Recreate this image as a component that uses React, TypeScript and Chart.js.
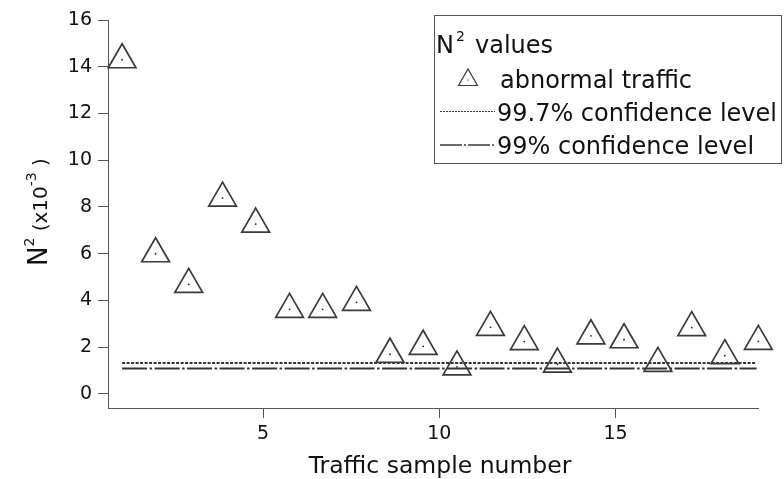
import React, { useEffect, useRef } from "react";
import { Chart, registerables } from "chart.js";

Chart.register(...registerables);

const sampleNumbers = [1.0, 1.95, 2.89, 3.85, 4.79, 5.75, 6.69, 7.65, 8.6, 9.54, 10.5, 11.45, 12.41, 13.35, 14.3, 15.24, 16.2, 17.16, 18.1, 19.05];
const n2Values = [14.3, 6.0, 4.69, 8.38, 7.27, 3.62, 3.62, 3.92, 1.7, 2.04, 1.16, 2.85, 2.24, 1.28, 2.49, 2.32, 1.31, 2.84, 1.64, 2.25];
const lineSpan = [1, 19];
const level997 = 1.32;
const level99 = 1.09;
const xTicks = [5, 10, 15];
const yTicks = [0, 2, 4, 6, 8, 10, 12, 14, 16];

const FONT = "'DejaVu Sans', sans-serif";
const INK = "#3a3a3a";
const TEXT = "#111";

const titlesAndLegend = {
  id: "titlesAndLegend",
  afterDraw(chart: any) {
    const ctx = chart.ctx as CanvasRenderingContext2D;
    ctx.save();
    ctx.fillStyle = TEXT;
    ctx.textBaseline = "alphabetic";
    ctx.textAlign = "left";

    // y title (rotated)
    ctx.save();
    ctx.translate(47, 266);
    ctx.rotate(-Math.PI / 2);
    let x = 0;
    const seg = (t: string, size: number, dy: number) => {
      ctx.font = `${size}px ${FONT}`;
      ctx.fillText(t, x, dy);
      x += ctx.measureText(t).width;
    };
    seg("N", 26, 0);
    seg("2", 14, -13);
    seg(" (x10", 20, 0);
    seg("-3", 14, -11);
    seg(" )", 20, 0);
    ctx.restore();

    // x title
    ctx.font = `23.5px ${FONT}`;
    ctx.textAlign = "center";
    ctx.fillText("Traffic sample number", 440, 473);
    ctx.textAlign = "left";

    // legend
    ctx.strokeStyle = "#555";
    ctx.lineWidth = 1;
    ctx.strokeRect(434.5, 15.5, 347, 148);

    ctx.font = `24px ${FONT}`;
    ctx.fillText("N", 436, 53);
    const nw = ctx.measureText("N").width;
    ctx.font = `14px ${FONT}`;
    ctx.fillText("2", 436 + nw + 2, 41);
    ctx.font = `24px ${FONT}`;
    ctx.fillText("values", 475, 53);

    const ds = chart.data.datasets;
    // triangle icon
    ctx.strokeStyle = INK;
    ctx.lineWidth = 1.2;
    const r = 11, cx = 468, cy = 80;
    ctx.beginPath();
    for (let i = 0; i < 3; i++) {
      const a = (i * 2 * Math.PI) / 3;
      const px = cx + Math.sin(a) * r, py = cy - Math.cos(a) * r;
      if (i === 0) ctx.moveTo(px, py); else ctx.lineTo(px, py);
    }
    ctx.closePath();
    ctx.stroke();
    ctx.fillStyle = INK;
    ctx.fillRect(cx - 0.6, cy - 0.6, 1.2, 1.2);
    ctx.fillStyle = TEXT;
    ctx.font = `24px ${FONT}`;
    ctx.fillText(ds[0].label, 500, 88);

    ctx.beginPath();
    ctx.setLineDash([2, 1]);
    ctx.lineWidth = 1;
    ctx.moveTo(440, 111.5);
    ctx.lineTo(495, 111.5);
    ctx.stroke();
    ctx.fillText(ds[2].label, 497, 121);

    ctx.beginPath();
    ctx.setLineDash([22, 2, 2, 2]);
    ctx.lineWidth = 1.5;
    ctx.moveTo(440, 145);
    ctx.lineTo(495, 145);
    ctx.stroke();
    ctx.setLineDash([]);
    ctx.fillText(ds[3].label, 497, 154);

    ctx.restore();
  },
};

export default function App() {
  const ref = useRef<HTMLCanvasElement>(null);
  useEffect(() => {
    if (!ref.current) return;
    const points = sampleNumbers.map((x, i) => ({ x, y: n2Values[i] }));
    const chart = new Chart(ref.current, {
      type: "scatter",
      data: {
        datasets: [
          {
            label: "abnormal traffic",
            data: points,
            pointStyle: "triangle",
            pointRadius: 16,
            pointHoverRadius: 16,
            borderColor: INK,
            borderWidth: 1.7,
            backgroundColor: "rgba(0,0,0,0)",
            clip: false,
          } as any,
          {
            label: "centres",
            data: points,
            pointStyle: "circle",
            pointRadius: 0.9,
            borderWidth: 0,
            backgroundColor: "#222",
            clip: false,
          } as any,
          {
            type: "line",
            label: "99.7% confidence level",
            data: lineSpan.map((x) => ({ x, y: level997 })),
            borderColor: "#333",
            borderWidth: 2,
            borderDash: [3, 1.5],
            pointRadius: 0,
            showLine: true,
          } as any,
          {
            type: "line",
            label: "99% confidence level",
            data: lineSpan.map((x) => ({ x, y: level99 })),
            borderColor: "#333",
            borderWidth: 2.2,
            borderDash: [25, 2.5, 2.5, 2.5],
            pointRadius: 0,
            showLine: true,
          } as any,
        ],
      },
      options: {
        animation: false,
        responsive: false,
        devicePixelRatio: 1,
        layout: { padding: { left: 0, right: 26, top: 20, bottom: 0 } },
        plugins: { legend: { display: false }, tooltip: { enabled: false } },
        events: [],
        scales: {
          x: {
            type: "linear",
            min: 0.6,
            max: 19.04,
            afterFit: (s: any) => { s.height = 71; },
            afterBuildTicks: (s: any) => { s.ticks = xTicks.map((v) => ({ value: v })); },
            grid: { drawOnChartArea: false, drawTicks: true, tickLength: 10, color: "#555", lineWidth: 1 },
            border: { display: true, color: "#555", width: 1 },
            ticks: { font: { family: FONT, size: 19 }, color: TEXT, padding: 5, maxRotation: 0 },
          },
          y: {
            type: "linear",
            min: -0.6,
            max: 16,
            afterFit: (s: any) => { s.width = 108; },
            afterBuildTicks: (s: any) => { s.ticks = yTicks.map((v) => ({ value: v })); },
            grid: { drawOnChartArea: false, drawTicks: true, tickLength: 10, color: "#555", lineWidth: 1 },
            border: { display: true, color: "#555", width: 1 },
            ticks: { font: { family: FONT, size: 19 }, color: TEXT, padding: 6 },
          },
        },
      } as any,
      plugins: [titlesAndLegend],
    });
    return () => chart.destroy();
  }, []);
  return (
    <div style={{ position: "absolute", left: 0, top: 0, width: 784, height: 479, background: "#fff" }}>
      <canvas ref={ref} width={784} height={479} style={{ display: "block" }} />
    </div>
  );
}
